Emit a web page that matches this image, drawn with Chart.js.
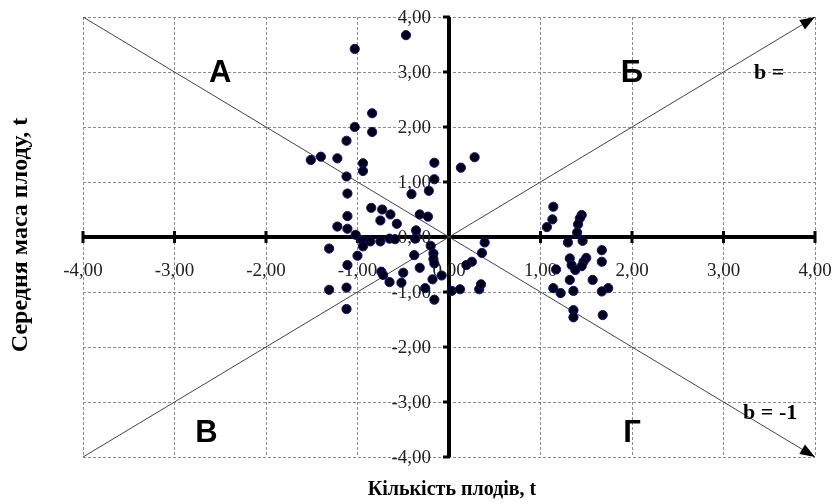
<!DOCTYPE html>
<html>
<head>
<meta charset="utf-8">
<script src="https://cdn.jsdelivr.net/npm/chart.js@4"></script>
<style>
  html, body { margin: 0; padding: 0; background: #fff; }
</style>
</head>
<body>
<canvas id="chart" width="837" height="504"></canvas>
<script>
// values
const pointX = [
  -0.47, -1.03, -0.84, -1.03, -0.84, -1.12, -1.51, -1.40, -1.22, -0.94,
  -0.94, -1.12, -0.16, -0.16, 0.13, 0.28, -1.11, -0.41, -0.22, -0.85,
  -0.73, -0.64, -0.32, -0.23, -1.11, -0.75, -0.57, -1.22, -1.11, -1.02,
  -0.36, -0.37, -0.95, -0.86, -0.75, -0.65, -0.59, -0.94, -1.31, -0.20,
  0.39, -0.17, -1.00, -0.38, -0.17, 0.36, -0.16, 0.25, 0.19, -0.32,
  -1.11, -0.74, -0.72, -0.50, -0.08, -0.18, -0.65, -0.52, -1.31, -1.12,
  -0.26, 0.03, 0.12, 0.33, 0.35, -0.16, -1.12,
  1.14, 1.13, 1.07, 1.45, 1.43, 1.41, 1.40, 1.46, 1.30, 1.67,
  1.32, 1.34, 1.50, 1.47, 1.38, 1.45, 1.67, 1.17, 1.32, 1.57,
  1.14, 1.22, 1.36, 1.74, 1.67, 1.36, 1.36, 1.68
];
const pointY = [
  3.67, 3.42, 2.25, 2.00, 1.91, 1.75, 1.40, 1.46, 1.43, 1.34,
  1.20, 1.10, 1.35, 1.05, 1.26, 1.45, 0.79, 0.78, 0.84, 0.53,
  0.50, 0.41, 0.41, 0.37, 0.38, 0.30, 0.24, 0.19, 0.15, 0.04,
  0.12, -0.03, -0.06, -0.08, -0.08, -0.03, -0.04, -0.17, -0.21, -0.16,
  -0.10, -0.30, -0.34, -0.33, -0.40, -0.29, -0.48, -0.45, -0.51, -0.56,
  -0.51, -0.63, -0.69, -0.65, -0.70, -0.77, -0.82, -0.83, -0.96, -0.92,
  -0.93, -0.98, -0.95, -0.95, -0.86, -1.14, -1.31,
  0.55, 0.32, 0.18, 0.40, 0.34, 0.23, 0.08, -0.07, -0.10, -0.24,
  -0.39, -0.51, -0.38, -0.45, -0.60, -0.53, -0.45, -0.59, -0.78, -0.78,
  -0.93, -1.02, -0.98, -0.93, -0.99, -1.33, -1.46, -1.42
];
// reference lines b = 1 and b = -1
const lineX = [-4, 4];
const lineUpY = [-4, 4];
const lineDownY = [4, -4];
const tickValues = [-4, -3, -2, -1, 0, 1, 2, 3, 4];
const tickLabels = ["-4,00", "-3,00", "-2,00", "-1,00", "0,00", "1,00", "2,00", "3,00", "4,00"];
const quadrants = [
  { label: "А", x: -2.5, y: 3 },
  { label: "Б", x: 2, y: 3 },
  { label: "В", x: -2.65, y: -3.55 },
  { label: "Г", x: 2, y: -3.55 }
];

const points = pointX.map((v, i) => ({ x: v, y: pointY[i] }));
const upLine = lineX.map((v, i) => ({ x: v, y: lineUpY[i] }));
const downLine = lineX.map((v, i) => ({ x: v, y: lineDownY[i] }));

const serif = '"Liberation Serif", "Times New Roman", serif';
const sans = '"Liberation Sans", Arial, sans-serif';

//draws the axes through zero, under the points
const crossAxes = {
  id: "crossAxes",
  beforeDatasetsDraw(chart) {
    const { ctx, scales: { x, y } } = chart;
    const x0 = x.getPixelForValue(0);
    const y0 = y.getPixelForValue(0);
    ctx.save();
    ctx.strokeStyle = "#000";
    ctx.lineWidth = 4;
    ctx.beginPath();
    ctx.moveTo(x.getPixelForValue(-4), y0);
    ctx.lineTo(x.getPixelForValue(4), y0);
    ctx.moveTo(x0, y.getPixelForValue(4));
    ctx.lineTo(x0, y.getPixelForValue(-4));
    ctx.stroke();
    ctx.lineWidth = 3;
    ctx.beginPath();
    tickValues.forEach((v) => {
      const px = x.getPixelForValue(v);
      ctx.moveTo(px, y0 - 6);
      ctx.lineTo(px, y0 + 6);
      const py = y.getPixelForValue(v);
      ctx.moveTo(x0 - 6, py);
      ctx.lineTo(x0 + 1, py);
    });
    ctx.stroke();

    ctx.fillStyle = "#222";
    ctx.font = "19px " + serif;
    ctx.textBaseline = "middle";
    ctx.textAlign = "center";
    tickValues.forEach((v, i) => {
      ctx.fillText(tickLabels[i], x.getPixelForValue(v), y0 + 34);
    });
    ctx.textAlign = "right";
    tickValues.forEach((v, i) => {
      ctx.fillText(tickLabels[i], x0 - 18, y.getPixelForValue(v) + 1);
    });
    ctx.restore();
  },
  afterDatasetsDraw(chart) {
    const { ctx, scales: { x, y } } = chart;
    ctx.save();
    // arrow heads at the end of both lines
    [1, 2].forEach((di) => {
      const els = chart.getDatasetMeta(di).data;
      const a = els[els.length - 2], b = els[els.length - 1];
      const ang = Math.atan2(b.y - a.y, b.x - a.x);
      const len = 15, half = 5.5;
      ctx.fillStyle = "#000";
      ctx.beginPath();
      ctx.moveTo(b.x, b.y);
      ctx.lineTo(b.x - len * Math.cos(ang) + half * Math.sin(ang), b.y - len * Math.sin(ang) - half * Math.cos(ang));
      ctx.lineTo(b.x - len * Math.cos(ang) - half * Math.sin(ang), b.y - len * Math.sin(ang) + half * Math.cos(ang));
      ctx.closePath();
      ctx.fill();
    });

    ctx.fillStyle = "#000";
    ctx.textAlign = "center";
    ctx.textBaseline = "middle";
    ctx.font = "bold 31px " + sans;
    quadrants.forEach((q) => {
      ctx.fillText(q.label, x.getPixelForValue(q.x), y.getPixelForValue(q.y) + 1);
    });

    ctx.font = "bold 22px " + serif;
    ctx.fillText("b =", x.getPixelForValue(3.5), y.getPixelForValue(3) + 1);
    ctx.fillText("b = -1", x.getPixelForValue(3.51), y.getPixelForValue(-3.2));

    ctx.font = "bold 20px " + serif;
    ctx.fillText("Кількість плодів, t", 452, 490);
    ctx.font = "bold 24px " + serif;
    ctx.translate(21, 235);
    ctx.rotate(-Math.PI / 2);
    ctx.fillText("Середня маса плоду, t", 0, 0);
    ctx.restore();
  }
};

const dashedGrid = {
  color: "#8c8c8c",
  lineWidth: 1,
  drawTicks: false
};

new Chart(document.getElementById("chart"), {
  type: "scatter",
  plugins: [crossAxes],
  data: {
    datasets: [
      {
        data: points,
        backgroundColor: "#000014",
        borderColor: "#10107a",
        borderWidth: 1,
        pointRadius: 4.6,
        order: 1
      },
      {
        type: "line",
        data: upLine,
        borderColor: "#444",
        borderWidth: 1,
        pointRadius: 0,
        order: 2
      },
      {
        type: "line",
        data: downLine,
        borderColor: "#444",
        borderWidth: 1,
        pointRadius: 0,
        order: 2
      }
    ]
  },
  options: {
    responsive: false,
    animation: false,
    layout: { padding: { left: 83, right: 22, top: 17, bottom: 47 } },
    plugins: {
      legend: { display: false },
      tooltip: { enabled: false }
    },
    scales: {
      x: {
        type: "linear",
        min: -4,
        max: 4,
        ticks: { display: false, stepSize: 1 },
        grid: dashedGrid,
        border: { display: true, width: 0, dash: [3, 2] }
      },
      y: {
        type: "linear",
        min: -4,
        max: 4,
        ticks: { display: false, stepSize: 1 },
        grid: dashedGrid,
        border: { display: true, width: 0, dash: [3, 2] }
      }
    }
  }
});
</script>
</body>
</html>
